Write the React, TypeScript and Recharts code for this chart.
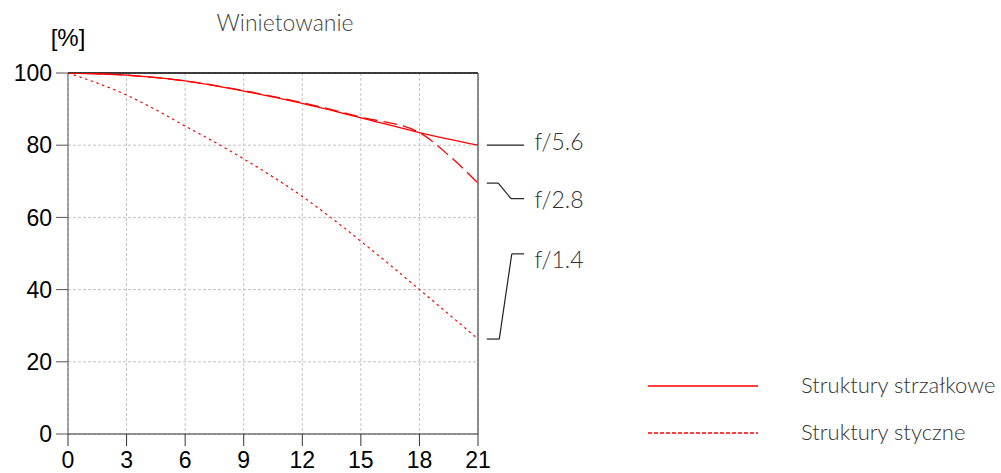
import {
  LineChart,
  Line,
  XAxis,
  YAxis,
  CartesianGrid,
  ReferenceLine,
  ReferenceDot,
  Customized,
} from "recharts";

// field position on x, relative illumination in %
const xTicks = [0, 3, 6, 9, 12, 15, 18, 21];
const yTicks = [0, 20, 40, 60, 80, 100];

const f56 = [
  { x: 0, y: 100 },
  { x: 3, y: 99.4 },
  { x: 6, y: 97.8 },
  { x: 9, y: 95.0 },
  { x: 12, y: 91.6 },
  { x: 15, y: 87.6 },
  { x: 18, y: 83.5 },
  { x: 21, y: 80.0 },
];

const f28 = [
  { x: 0, y: 100 },
  { x: 3, y: 99.4 },
  { x: 6, y: 97.8 },
  { x: 9, y: 95.1 },
  { x: 12, y: 91.8 },
  { x: 15, y: 87.8 },
  { x: 18, y: 83.5 },
  { x: 19.5, y: 77.2 },
  { x: 21, y: 69.5 },
];

const f14 = [
  { x: 0, y: 100 },
  { x: 1.5, y: 97.2 },
  { x: 3, y: 93.9 },
  { x: 4.5, y: 89.8 },
  { x: 6, y: 85.3 },
  { x: 7.5, y: 80.9 },
  { x: 9, y: 76.2 },
  { x: 10.5, y: 71.2 },
  { x: 12, y: 65.8 },
  { x: 13.5, y: 59.8 },
  { x: 15, y: 53.4 },
  { x: 16.5, y: 46.8 },
  { x: 18, y: 40.0 },
  { x: 19.5, y: 33.2 },
  { x: 21, y: 26.3 },
];

// leader lines to the aperture labels (data space, drawn past the right edge)
const leaders = [
  { label: "f/5.6", labelY: 81.2, path: [[21.45, 80], [23.36, 80]] },
  { label: "f/2.8", labelY: 65.0, path: [[21.45, 69.5], [22.04, 69.5], [22.69, 65.2], [23.36, 65.2]] },
  { label: "f/1.4", labelY: 48.5, path: [[21.45, 26.3], [22.09, 26.3], [22.73, 49.9], [23.36, 49.9]] },
];

const legendItems = [
  { name: "Struktury strzałkowe", dash: undefined as string | undefined },
  { name: "Struktury styczne", dash: "4 2" },
];

const RED = "#ff0000";
const AXIS_FONT = { fontFamily: "Liberation Sans, Arial, sans-serif", fontSize: 23, fill: "#000" };
const LIGHT_FONT = "Lato, 'Noto Sans', sans-serif";

function Decorations() {
  return (
    <g>
      <text x={285} y={22} textAnchor="middle" dominantBaseline="central" fontFamily={LIGHT_FONT} fontWeight={300} fontSize={23} fill="#444">
        Winietowanie
      </text>
      <text x={68} y={37} textAnchor="middle" dominantBaseline="central" fontFamily="Liberation Sans, Arial, sans-serif" fontSize={24} fill="#000">
        [%]
      </text>
      {legendItems.map((item, i) => {
        const y = 386 + i * 47;
        return (
          <g key={item.name}>
            <line x1={648} x2={758} y1={y} y2={y} stroke={RED} strokeWidth={1.3} strokeDasharray={item.dash} />
            <text x={801} y={y - 2} dominantBaseline="central" fontFamily={LIGHT_FONT} fontWeight={300} fontSize={22} fill="#333">
              {item.name}
            </text>
          </g>
        );
      })}
    </g>
  );
}

export default function App() {
  return (
    <div style={{ position: "fixed", left: 0, top: 0, background: "#fff" }}>
      <LineChart width={1001} height={473} margin={{ top: 73, right: 523, bottom: 0, left: 0 }}>
        <CartesianGrid stroke="#c4c4c4" strokeDasharray="3 2" />
        <XAxis
          type="number"
          dataKey="x"
          domain={[0, 21]}
          ticks={xTicks}
          interval={0}
          height={39}
          tickSize={12}
          tickMargin={6}
          stroke="#333"
          tick={AXIS_FONT}
          allowDataOverflow
        />
        <YAxis
          type="number"
          dataKey="y"
          domain={[0, 100]}
          ticks={yTicks}
          interval={0}
          width={68}
          tickSize={12}
          tickMargin={4}
          stroke="#555"
          tick={AXIS_FONT}
          allowDataOverflow
        />
        <ReferenceLine y={100} stroke="#000" strokeWidth={1.3} />
        <ReferenceLine x={21} stroke="#555" strokeWidth={1.3} />
        <Line data={f14} dataKey="y" type="monotone" stroke={RED} strokeWidth={1.2} strokeDasharray="2.5 3.5" dot={false} isAnimationActive={false} />
        <Line data={f56} dataKey="y" type="monotone" stroke={RED} strokeWidth={1.3} dot={false} isAnimationActive={false} />
        <Line data={f28} dataKey="y" type="monotone" stroke={RED} strokeWidth={1.3} strokeDasharray="14 6" dot={false} isAnimationActive={false} />
        {leaders.map((l) =>
          l.path.slice(1).map((p, i) => (
            <ReferenceLine
              key={`${l.label}-${i}`}
              segment={[
                { x: l.path[i][0], y: l.path[i][1] },
                { x: p[0], y: p[1] },
              ]}
              stroke="#222"
              strokeWidth={1.2}
              ifOverflow="visible"
            />
          )),
        )}
        {leaders.map((l) => (
          <ReferenceDot
            key={l.label}
            x={23.89}
            y={l.labelY}
            r={0}
            ifOverflow="visible"
            label={(props: any) => (
              <text x={props.viewBox?.x ?? 0} y={props.viewBox?.y ?? 0} dominantBaseline="central" fontFamily={LIGHT_FONT} fontWeight={300} fontSize={23} fill="#333">
                {l.label}
              </text>
            )}
          />
        ))}
        <Customized component={Decorations} />
      </LineChart>
    </div>
  );
}
